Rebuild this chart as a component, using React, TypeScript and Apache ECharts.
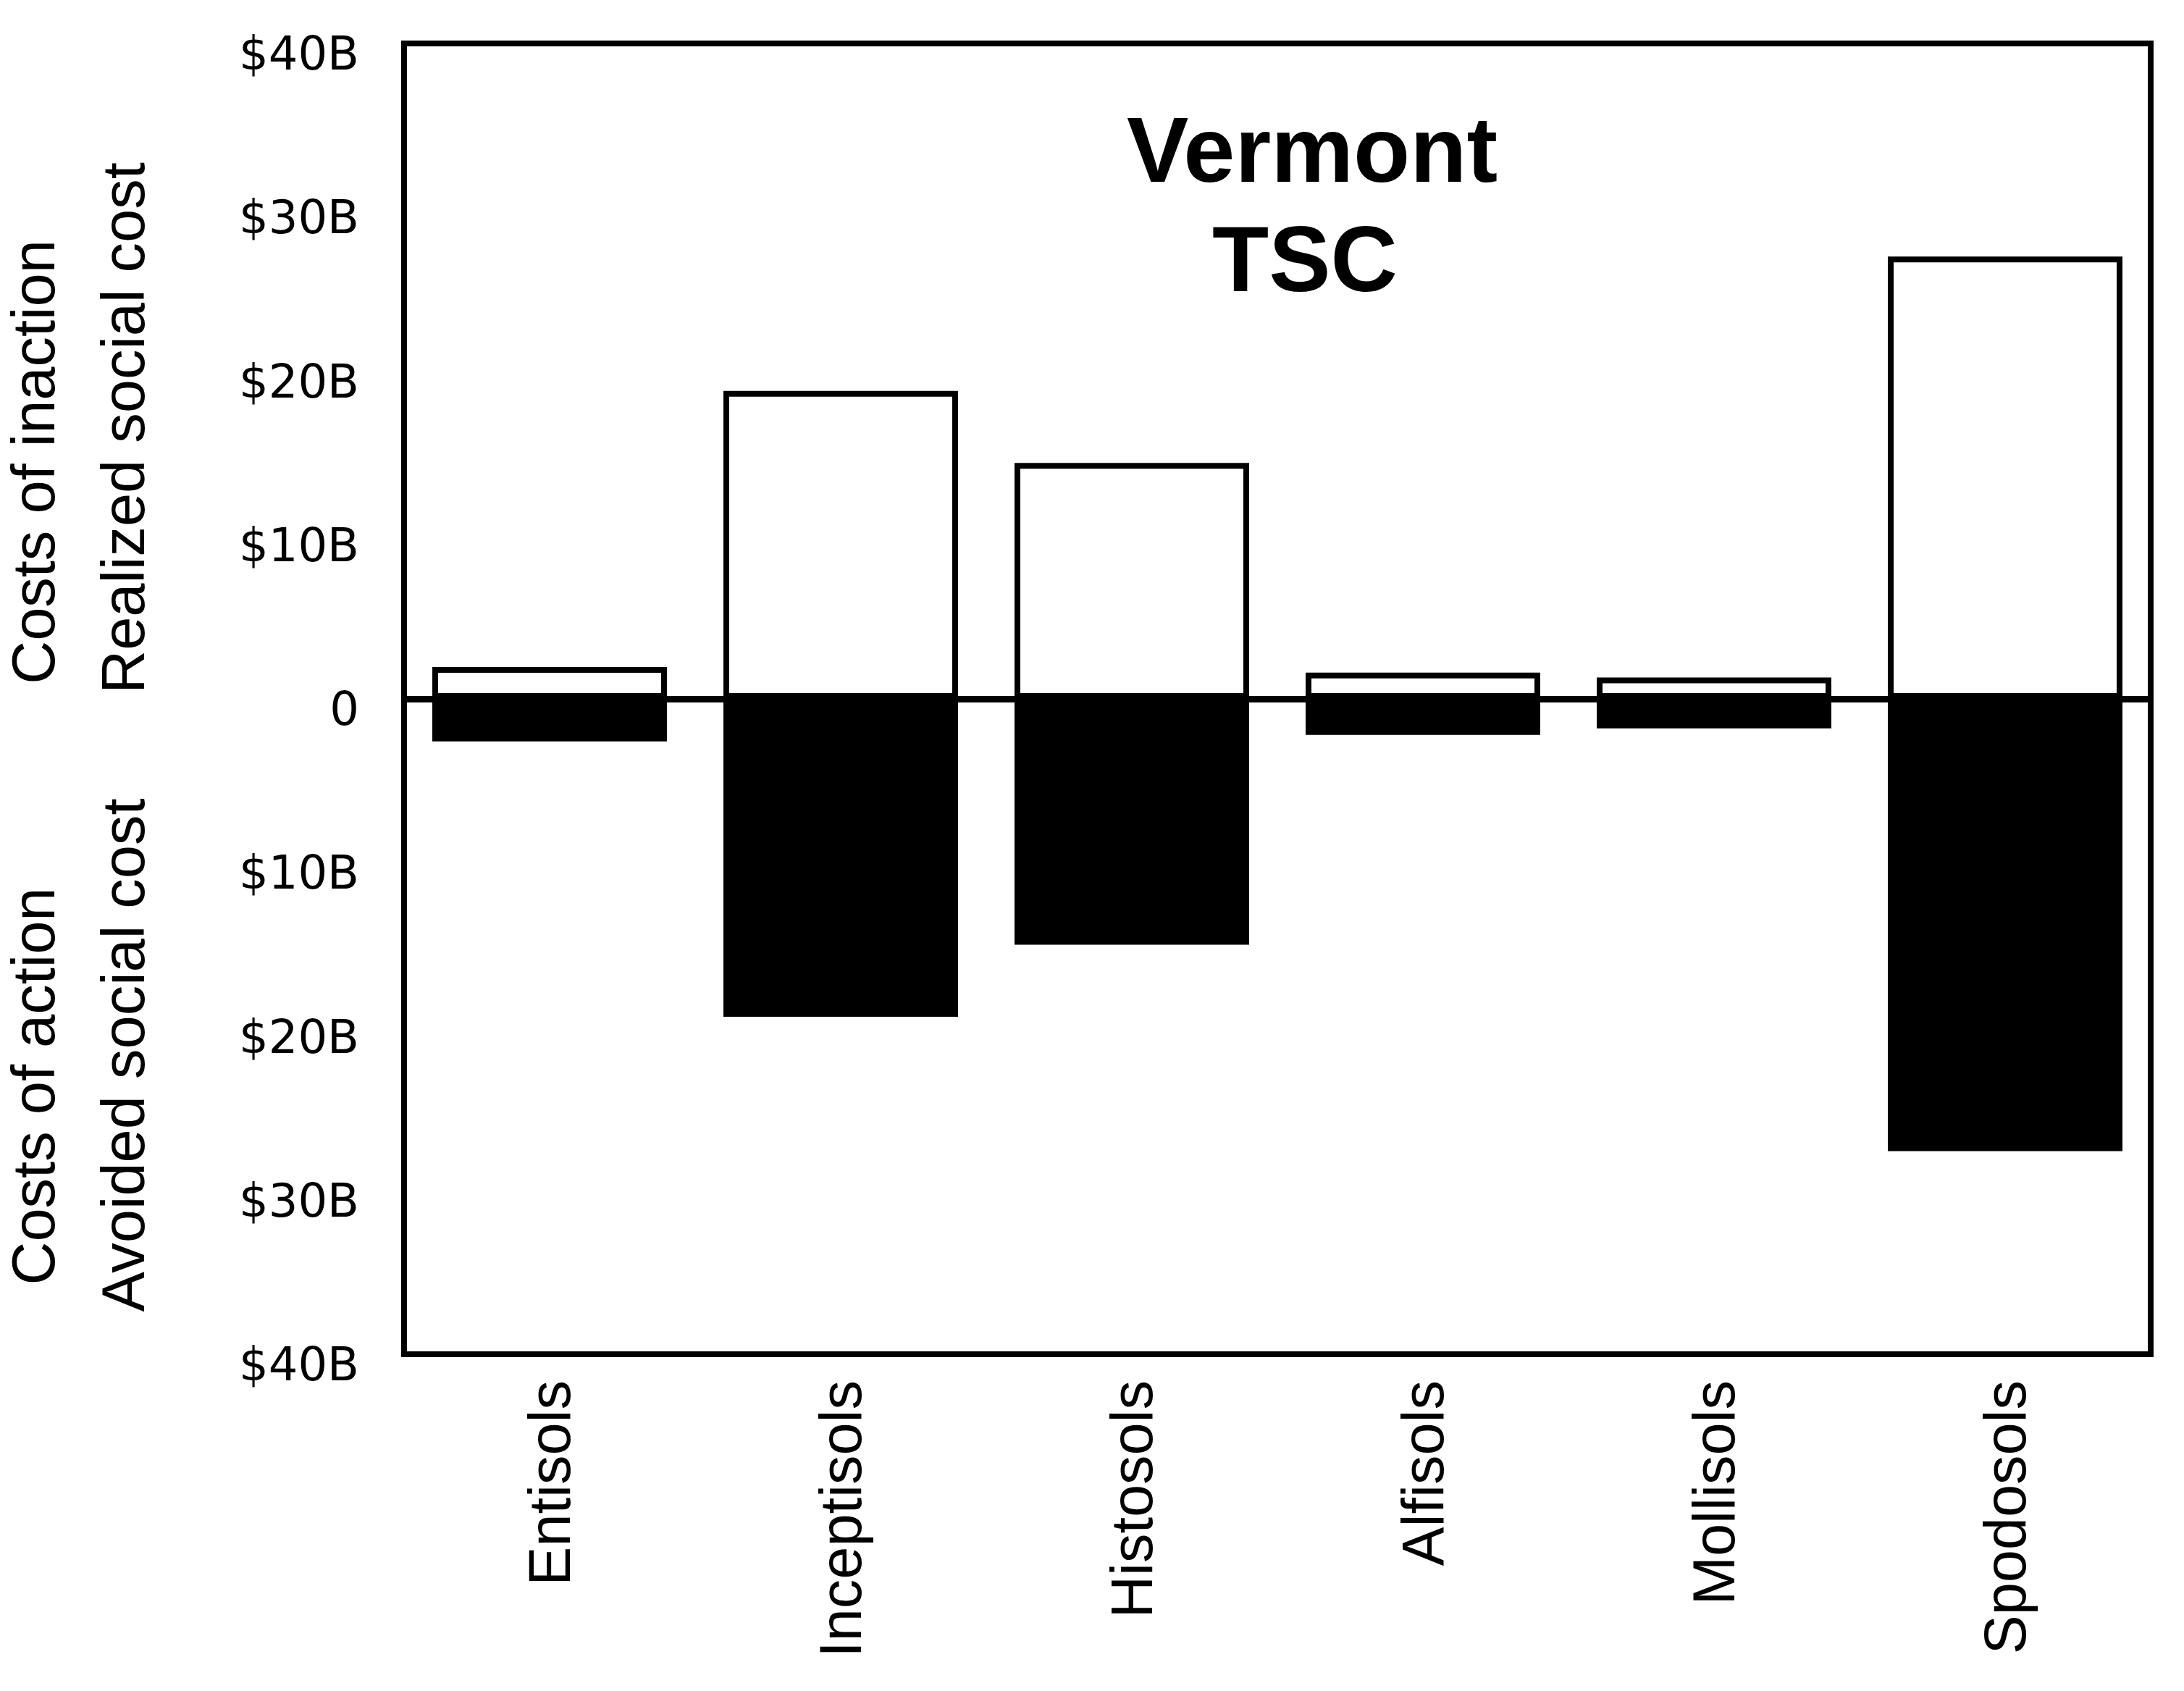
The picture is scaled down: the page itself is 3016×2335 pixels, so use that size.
import React, { useEffect, useRef } from "react";
import * as echarts from "echarts";

const categories = ["Entisols", "Inceptisols", "Histosols", "Alfisols", "Mollisols", "Spodosols"];
// Realized social cost (costs of inaction), $B
const realizedCost = [1.95, 18.8, 14.4, 1.6, 1.3, 27.0];
// Avoided social cost (costs of action), $B (drawn downward)
const avoidedCost = [-2.6, -19.4, -15.0, -2.2, -1.8, -27.6];
const yTicks = { min: -40, max: 40, interval: 10 };
const titleLines = ["Vermont", "TSC"];
const axisTitles = {
  inactionA: "Costs of inaction",
  inactionB: "Realized social cost",
  actionA: "Costs of action",
  actionB: "Avoided social cost",
};

const FONT = "Liberation Sans, Arial, Helvetica, sans-serif";
const TICK_FONT = "DejaVu Sans, Liberation Sans, Arial, sans-serif";

export default function App() {
  const ref = useRef<HTMLDivElement>(null);
  useEffect(() => {
    document.body.style.margin = "0";
    if (!ref.current) return;
    const chart = echarts.init(ref.current, undefined, { renderer: "svg" });
    chart.setOption({
      animation: false,
      backgroundColor: "#fff",
      grid: {
        left: 558,
        top: 60,
        right: 46,
        bottom: 465,
        show: true,
        borderColor: "#000",
        borderWidth: 8,
        backgroundColor: "transparent",
      },
      xAxis: {
        type: "category",
        data: categories,
        axisLine: { show: false },
        axisTick: { show: false },
        splitLine: { show: false },
        axisLabel: {
          rotate: 90,
          margin: 36,
          fontSize: 81,
          fontFamily: FONT,
          color: "#000",
          interval: 0,
        },
      },
      yAxis: {
        type: "value",
        min: yTicks.min,
        max: yTicks.max,
        interval: yTicks.interval,
        axisLine: { show: false },
        axisTick: { show: false },
        splitLine: { show: false },
        axisLabel: {
          margin: 62,
          fontSize: 64,
          fontFamily: TICK_FONT,
          color: "#000",
          verticalAlign: "top",
          lineHeight: 28,
          formatter: (v: number) => (v === 0 ? "0" : "$" + Math.abs(v) + "B"),
        },
      },
      series: [
        {
          type: "bar",
          name: "Realized social cost",
          data: realizedCost,
          barWidth: 324,
          barGap: "-100%",
          itemStyle: { color: "#fff", borderColor: "#000", borderWidth: 8 },
          z: 2,
          markLine: {
            silent: true,
            symbol: ["none", "none"],
            label: { show: false },
            lineStyle: { color: "#000", width: 9, type: "solid" },
            data: [{ yAxis: 0 }],
            z: 5,
          },
        },
        {
          type: "bar",
          name: "Avoided social cost",
          data: avoidedCost,
          barWidth: 324,
          barGap: "-100%",
          itemStyle: { color: "#000", borderColor: "#000", borderWidth: 8 },
          z: 2,
        },
      ],
      graphic: [
        {
          type: "text",
          x: 1812,
          y: 206,
          style: {
            text: titleLines[0],
            font: `bold 128px ${FONT}`,
            fill: "#000",
            textAlign: "center",
            textVerticalAlign: "middle",
          },
        },
        {
          type: "text",
          x: 1802,
          y: 357,
          style: {
            text: titleLines[1],
            font: `bold 128px ${FONT}`,
            fill: "#000",
            textAlign: "center",
            textVerticalAlign: "middle",
          },
        },
        {
          type: "text",
          x: 46,
          y: 638,
          rotation: Math.PI / 2,
          style: {
            text: axisTitles.inactionA,
            font: `83px ${FONT}`,
            fill: "#000",
            textAlign: "center",
            textVerticalAlign: "middle",
          },
        },
        {
          type: "text",
          x: 170,
          y: 591,
          rotation: Math.PI / 2,
          style: {
            text: axisTitles.inactionB,
            font: `83px ${FONT}`,
            fill: "#000",
            textAlign: "center",
            textVerticalAlign: "middle",
          },
        },
        {
          type: "text",
          x: 46,
          y: 1500,
          rotation: Math.PI / 2,
          style: {
            text: axisTitles.actionA,
            font: `83px ${FONT}`,
            fill: "#000",
            textAlign: "center",
            textVerticalAlign: "middle",
          },
        },
        {
          type: "text",
          x: 170,
          y: 1457,
          rotation: Math.PI / 2,
          style: {
            text: axisTitles.actionB,
            font: `83px ${FONT}`,
            fill: "#000",
            textAlign: "center",
            textVerticalAlign: "middle",
          },
        },
      ],
    });
    return () => chart.dispose();
  }, []);
  return <div ref={ref} style={{ width: 3016, height: 2335 }} />;
}
